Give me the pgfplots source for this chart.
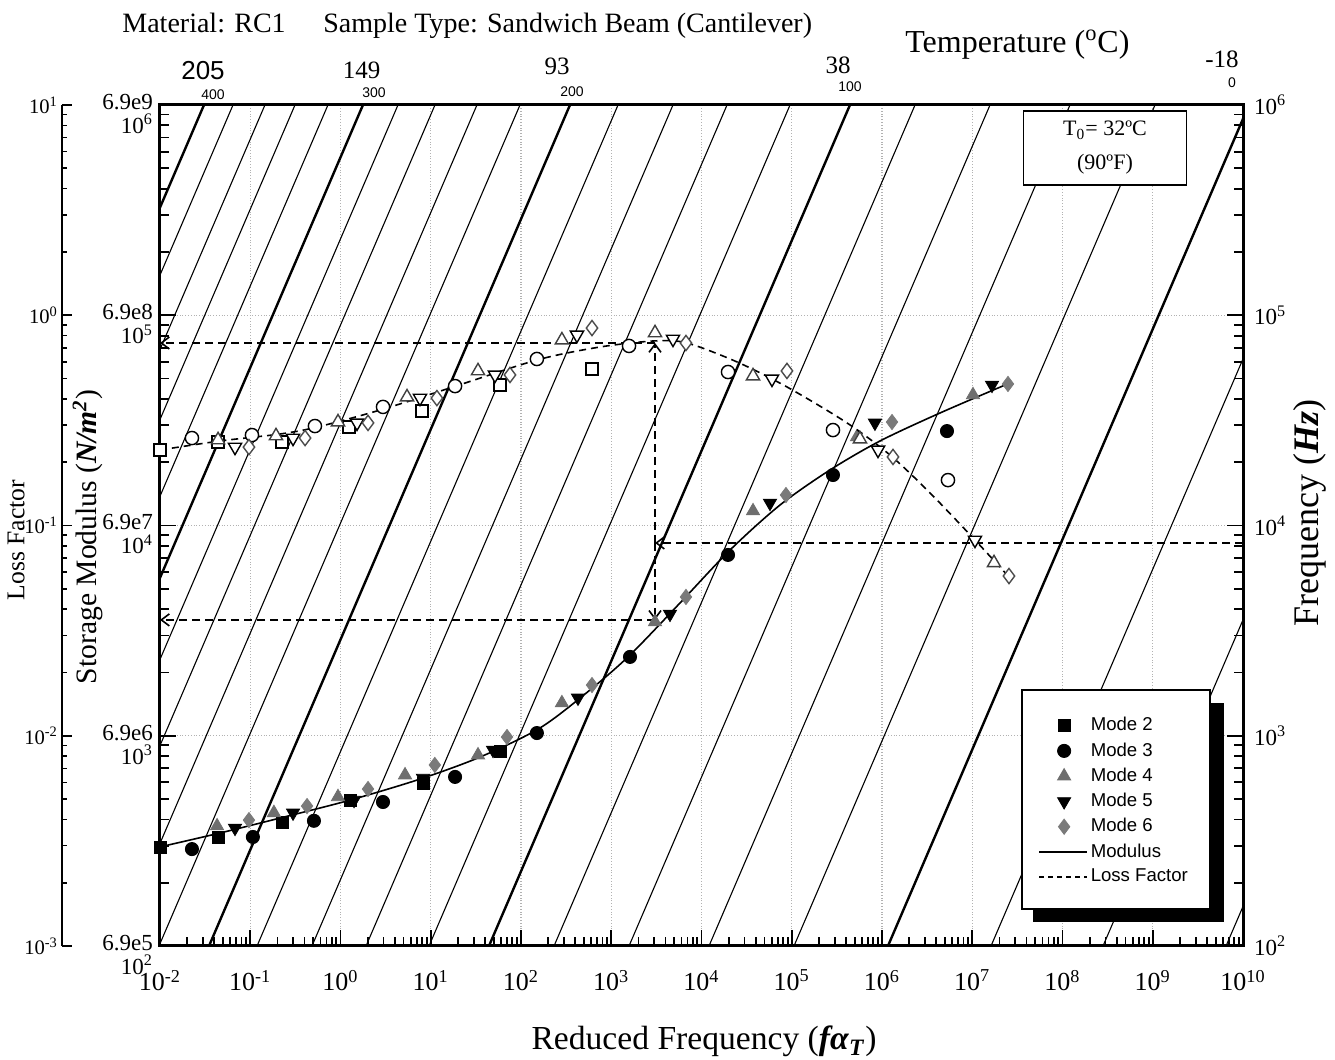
\documentclass[border=0pt]{standalone}
\usepackage{fontspec}
\setmainfont{Liberation Serif}
\setsansfont{Liberation Sans}
\usepackage{pgfplots}
\pgfplotsset{compat=1.18}
\usetikzlibrary{arrows.meta}
\def\minorx{2e-2}
\foreach \ee in {-2,...,9}{\foreach \mm in {2,...,9}{\xdef\minorx{\minorx,\mm e\ee}}}
\def\minory{2e2}
\foreach \ee in {2,...,5}{\foreach \mm in {2,...,9}{\xdef\minory{\minory,\mm e\ee}}}
\def\minorl{2e-3}
\foreach \ee in {-3,...,0}{\foreach \mm in {2,...,9}{\xdef\minorl{\minorl,\mm e\ee}}}
\pgfplotsset{
 commonaxis/.style={scale only axis, width=541.5pt, height=420.5pt, at={(0pt,0pt)}, anchor=south west},
 iso/.style={black, line width=0.55pt, forget plot},
 isoT/.style={black, line width=1.2pt, forget plot},
 arr/.style={black, line width=0.8pt, dash pattern=on 4pt off 2.5pt, -{Straight Barb[length=4pt,width=6pt]}, forget plot},
 lineleg/.style={legend image code/.code={\draw[##1] (-4pt,0pt) -- (20pt,0pt);}},
}
\definecolor{mgray}{HTML}{6E6E6E}
\definecolor{dgray}{HTML}{7A7A7A}
\begin{document}
\begin{tikzpicture}
% ---------------- main axis (modulus in psi, frequency in Hz) ----------------
\begin{axis}[commonaxis,
 xmode=log, ymode=log, xmin=1e-2, xmax=1e10, ymin=1e2, ymax=1e6,
 xtick={1e-2,1e-1,1e0,1e1,1e2,1e3,1e4,1e5,1e6,1e7,1e8,1e9,1e10},
 xticklabels={{10\textsuperscript{-2}},{10\textsuperscript{-1}},{10\textsuperscript{0}},{10\textsuperscript{1}},{10\textsuperscript{2}},{10\textsuperscript{3}},{10\textsuperscript{4}},{10\textsuperscript{5}},{10\textsuperscript{6}},{10\textsuperscript{7}},{10\textsuperscript{8}},{10\textsuperscript{9}},{10\textsuperscript{10}}},
 minor xtick/.expand once=\minorx,
 ytick={1e2,1e3,1e4,1e5,1e6},
 yticklabels={{6.9e5\\[0.5pt]10\textsuperscript{2}},{6.9e6\\[0.5pt]10\textsuperscript{3}},{6.9e7\\[0.5pt]10\textsuperscript{4}},{6.9e8\\[0.5pt]10\textsuperscript{5}},{6.9e9\\[0.5pt]10\textsuperscript{6}}},
 minor ytick/.expand once=\minory,
 xtick pos=left, ytick pos=left, tick align=inside,
 major tick length=8pt, minor tick length=4.5pt,
 every tick/.style={black, line width=0.9pt},
 axis line style={line width=1.5pt},
 xmajorgrids, ymajorgrids, major grid style={densely dotted, black!30, line width=0.6pt},
 xticklabel style={font=\fontsize{13}{13}\selectfont, yshift=-8.5pt},
 yticklabel style={font=\fontsize{11.5}{11.5}\selectfont, align=right, yshift=-4.5pt},
 legend cell align=left,
 legend style={at={(0.7959,0.3044)}, anchor=north west, draw=none, fill=none,
   font=\fontsize{9.3}{11}\sffamily, inner xsep=8pt, inner ysep=12pt, row sep=1.4pt,
   nodes={inner sep=1.5pt}},
]
% isotherms (deg F): 400 ... -60 in steps of 20
\addplot[isoT] coordinates {(3.073e-6,1e2) (0.03073,1e6)};
\addplot[iso] coordinates {(6.442e-6,1e2) (0.06442,1e6)};
\addplot[iso] coordinates {(1.455e-5,1e2) (0.1455,1e6)};
\addplot[iso] coordinates {(3.133e-5,1e2) (0.3133,1e6)};
\addplot[iso] coordinates {(7.261e-5,1e2) (0.7261,1e6)};
\addplot[isoT] coordinates {(1.774e-4,1e2) (1.774,1e6)};
\addplot[iso] coordinates {(4.335e-4,1e2) (4.335,1e6)};
\addplot[iso] coordinates {(1.114e-3,1e2) (11.14,1e6)};
\addplot[iso] coordinates {(3.251e-3,1e2) (32.51,1e6)};
\addplot[iso] coordinates {(9.75e-3,1e2) (97.5,1e6)};
\addplot[isoT] coordinates {(3.491e-2,1e2) (349.1,1e6)};
\addplot[iso] coordinates {(0.1189,1e2) (1189,1e6)};
\addplot[iso] coordinates {(0.4831,1e2) (4831,1e6)};
\addplot[iso] coordinates {(1.919,1e2) (19190,1e6)};
\addplot[iso] coordinates {(9.572,1e2) (95720,1e6)};
\addplot[isoT] coordinates {(44.16,1e2) (441600,1e6)};
\addplot[iso] coordinates {(232.3,1e2) (2.323e6,1e6)};
\addplot[iso] coordinates {(1574,1e2) (1.574e7,1e6)};
\addplot[iso] coordinates {(12110,1e2) (1.211e8,1e6)};
\addplot[iso] coordinates {(105900,1e2) (1.059e9,1e6)};
\addplot[isoT] coordinates {(1.164e6,1e2) (1.164e10,1e6)};
\addplot[iso] coordinates {(1.614e7,1e2) (1.614e11,1e6)};
\addplot[iso] coordinates {(2.812e8,1e2) (2.812e12,1e6)};
\addplot[iso] coordinates {(6.486e9,1e2) (6.486e13,1e6)};
% reading construction
\addplot[arr] coordinates {(1e10,8260) (3055,8260)};
\addplot[arr] coordinates {(3055,8260) (3055,73790)};
\addplot[arr] coordinates {(3055,8260) (3055,3557)};
\addplot[arr] coordinates {(3055,73790) (0.01,73790)};
\addplot[arr] coordinates {(3055,3557) (0.01,3557)};
% modulus master curve
\addplot[black, line width=0.8pt, smooth, forget plot] coordinates {
 (0.01,296) (0.04624,344.7) (0.2138,406) (1.274,494) (7.60,622) (35.2,792) (162.5,1089)
 (582,1651) (1614,2421) (5781,4280) (20700,7643) (74130,12510) (265500,18370)
 (950600,25230) (4.395e6,34280) (2.618e7,47640)};
% storage modulus data (psi)
\addplot[only marks, mark=square*, mark size=3pt, mark options={black, fill=black, line width=0.4pt}] coordinates {
 (0.01,296) (0.0440,330) (0.225,389) (1.274,494) (8.20,596) (58.5,838)};
\addlegendentry{Mode 2}
\addplot[only marks, mark=*, mark size=3.3pt, mark options={black, fill=black, line width=0.4pt}] coordinates {
 (0.0226,289) (0.107,330) (0.508,394) (2.958,484) (18.6,637) (150,1030) (1614,2371) (19680,7244) (286400,17380) (5.248e6,28120)};
\addlegendentry{Mode 3}
\addplot[only marks, mark=triangle*, mark size=3.8pt, mark options={mgray, fill=mgray, line width=0.4pt}] coordinates {
 (0.0429,372) (0.183,430) (0.938,512) (5.19,650) (33.4,809) (284,1432) (3055,3475) (37240,11720) (528400,26360) (1.019e7,41780)};
\addlegendentry{Mode 4}
\addplot[only marks, mark=triangle*, mark size=3.8pt, mark options={black, fill=black, rotate=180, line width=0.4pt}] coordinates {
 (0.0678,364) (0.298,430) (1.413,494) (8.20,629) (49.0,855) (428,1514) (4477,3793) (57410,12790) (835600,30760) (1.656e7,46560)};
\addlegendentry{Mode 5}
\addplot[only marks, mark=diamond*, mark size=3.8pt, mark options={dgray, fill=dgray, line width=0.4pt}] coordinates {
 (0.0968,397) (0.426,463) (2.018,558) (11.1,726) (70.0,986) (612,1742) (6730,4571) (86300,13960) (1.291e6,31050) (2.489e7,47100)};
\addlegendentry{Mode 6}
\addlegendimage{black, line width=0.7pt, lineleg}
\addlegendentry{Modulus}
\addlegendimage{black, line width=0.7pt, dash pattern=on 2.5pt off 2pt, lineleg}
\addlegendentry{Loss Factor}
% legend frame with solid shadow
\fill[black] (axis description cs:0.8061,0.0285) rectangle (axis description cs:0.9825,0.2889);
\filldraw[fill=white, draw=black, line width=0.9pt] (axis description cs:0.7959,0.0440) rectangle (axis description cs:0.9695,0.3044);
\end{axis}
% ---------------- loss factor data (overlay) ----------------
\begin{axis}[commonaxis, xmode=log, ymode=log, xmin=1e-2, xmax=1e10, ymin=1e-3, ymax=1e1, hide axis]
\addplot[black, line width=0.8pt, smooth, dash pattern=on 3.5pt off 2.5pt] coordinates {
 (0.01,0.2286) (0.04624,0.2523) (0.2138,0.2723) (0.5495,0.2938) (2.742,0.3540) (16.33,0.4508)
 (150,0.6124) (750,0.7063) (3055,0.7551) (6902,0.7379) (24720,0.5998) (88500,0.4560)
 (409300,0.3076) (1.227e6,0.2163) (3.404e6,0.1429) (1.072e7,0.0853) (2.618e7,0.0562)};
\addplot[only marks, mark=square*, mark size=3pt, mark options={black, fill=white, line width=0.7pt}] coordinates {
 (0.01,0.2286) (0.0440,0.2495) (0.225,0.2495) (1.242,0.2938) (8.00,0.3508) (58.5,0.4656) (612,0.5546)};
\addplot[only marks, mark=*, mark size=3.3pt, mark options={black, fill=white, line width=0.7pt}] coordinates {
 (0.0226,0.2606) (0.1045,0.2692) (0.521,0.2972) (2.958,0.3664) (18.6,0.4603) (150,0.6194) (1574,0.7145) (19680,0.5370) (286400,0.2844) (5.383e6,0.1644)};
\addplot[only marks, mark=triangle*, mark size=3.8pt, mark options={black!75, fill=white, line width=0.7pt}] coordinates {
 (0.0440,0.2553) (0.193,0.2667) (0.938,0.3105) (5.46,0.4083) (33.4,0.5433) (284,0.7621) (3055,0.8241) (37240,0.5140) (570200,0.2576) (1.742e7,0.0664)};
\addplot[only marks, mark=triangle*, mark size=3.8pt, mark options={black, fill=white, rotate=180, line width=0.7pt}] coordinates {
 (0.0678,0.2360) (0.298,0.2606) (1.524,0.3076) (7.60,0.4036) (51.5,0.5200) (417,0.8054) (4831,0.7709) (60390,0.4977) (903600,0.2286) (1.072e7,0.0853)};
\addplot[only marks, mark=diamond*, mark size=3.8pt, mark options={black!70, fill=white, line width=0.7pt}] coordinates {
 (0.0968,0.2360) (0.405,0.2606) (2.018,0.3076) (11.7,0.4036) (75.5,0.5200) (612,0.8690) (6730,0.7379) (88500,0.5433) (1.324e6,0.2118) (2.553e7,0.0575)};
\end{axis}
% ---------------- right frequency axis ----------------
\begin{axis}[commonaxis, xmode=log, ymode=log, xmin=1e-2, xmax=1e10, ymin=1e2, ymax=1e6,
 hide x axis, axis y line*=right, y axis line style={-, line width=1.2pt},
 ytick={1e2,1e3,1e4,1e5,1e6},
 yticklabels={{10\textsuperscript{2}},{10\textsuperscript{3}},{10\textsuperscript{4}},{10\textsuperscript{5}},{10\textsuperscript{6}}},
 minor ytick/.expand once=\minory, tick align=inside, major tick length=8pt, minor tick length=4.5pt,
 every tick/.style={black, line width=0.9pt},
 yticklabel style={font=\fontsize{11.5}{11.5}\selectfont, xshift=2pt}]
\addplot[draw=none] coordinates {(1,1e3)};
\end{axis}
% ---------------- loss factor scale ----------------
\begin{axis}[scale only axis, width=1pt, height=420.5pt, at={(-49pt,0pt)}, anchor=south west,
 xmin=0, xmax=1, ymode=log, ymin=1e-3, ymax=1e1, hide x axis,
 axis y line=left, y axis line style={-, line width=1pt},
 ytick={1e-3,1e-2,1e-1,1,10},
 yticklabels={{10\textsuperscript{-3}},{10\textsuperscript{-2}},{10\textsuperscript{-1}},{10\textsuperscript{0}},{10\textsuperscript{1}}},
 minor ytick/.expand once=\minorl, tick align=inside, major tick length=5pt, minor tick length=2.5pt,
 every tick/.style={black, line width=0.8pt},
 yticklabel style={font=\fontsize{10.3}{10.3}\selectfont, xshift=1.5pt}]
\addplot[draw=none] coordinates {(0.5,0.1)};
\end{axis}
% ---------------- texts ----------------
\node[anchor=base west, inner sep=0pt, font=\fontsize{14}{16}\selectfont] at (-19pt,456.5pt) {Material: RC1};
\node[anchor=base west, inner sep=0pt, font=\fontsize{14}{16}\selectfont] at (81.5pt,456.5pt) {Sample Type: Sandwich Beam (Cantilever)};
\node[anchor=base west, inner sep=0pt, font=\fontsize{16}{18}\selectfont] at (372.5pt,446.5pt) {Temperature (\textsuperscript{o}C)};
\node[anchor=base, inner sep=0pt, font=\fontsize{13}{13}\sffamily] at (21.5pt,433pt) {205};
\node[anchor=base, inner sep=0pt, font=\fontsize{12.5}{13}\selectfont] at (100.75pt,433.5pt) {149};
\node[anchor=base, inner sep=0pt, font=\fontsize{12.5}{13}\selectfont] at (198.5pt,435.5pt) {93};
\node[anchor=base, inner sep=0pt, font=\fontsize{12.5}{13}\selectfont] at (339pt,436pt) {38};
\node[anchor=base, inner sep=0pt, font=\fontsize{12.5}{13}\selectfont] at (531pt,439pt) {-18};
\node[anchor=base, inner sep=0pt, font=\fontsize{7}{8}\sffamily] at (26.5pt,423pt) {400};
\node[anchor=base, inner sep=0pt, font=\fontsize{7}{8}\sffamily] at (107pt,424pt) {300};
\node[anchor=base, inner sep=0pt, font=\fontsize{7}{8}\sffamily] at (206pt,424.5pt) {200};
\node[anchor=base, inner sep=0pt, font=\fontsize{7}{8}\sffamily] at (345pt,427pt) {100};
\node[anchor=base, inner sep=0pt, font=\fontsize{7}{8}\sffamily] at (536pt,429pt) {0};
\node[draw=black, line width=0.8pt, fill=white, minimum width=81.5pt, minimum height=37pt, align=center,
 font=\fontsize{11}{17}\selectfont] at (472.5pt,399pt) {T\textsubscript{0}= 32ºC\\(90ºF)};
\node[anchor=base, inner sep=0pt, font=\fontsize{16.8}{18}\selectfont] at (272pt,-52pt)
 {Reduced Frequency (\textbf{\textit{fα}}\textsubscript{\textbf{\textit{T}}})};
\node[rotate=90, inner sep=0pt, font=\fontsize{14.8}{16}\selectfont] at (-36pt,204.5pt)
 {Storage Modulus (\textbf{\textit{N/m\textsuperscript{2}}})};
\node[rotate=90, inner sep=0pt, font=\fontsize{12.8}{14}\selectfont] at (-72pt,203pt) {Loss Factor};
\node[rotate=90, inner sep=0pt, font=\fontsize{18}{20}\selectfont] at (575pt,216.5pt)
 {Frequency (\textbf{\textit{Hz}})};
\pgfresetboundingbox
\path[use as bounding box] (-80pt,-57pt) rectangle (587.5pt,473pt);
\end{tikzpicture}
\end{document}
